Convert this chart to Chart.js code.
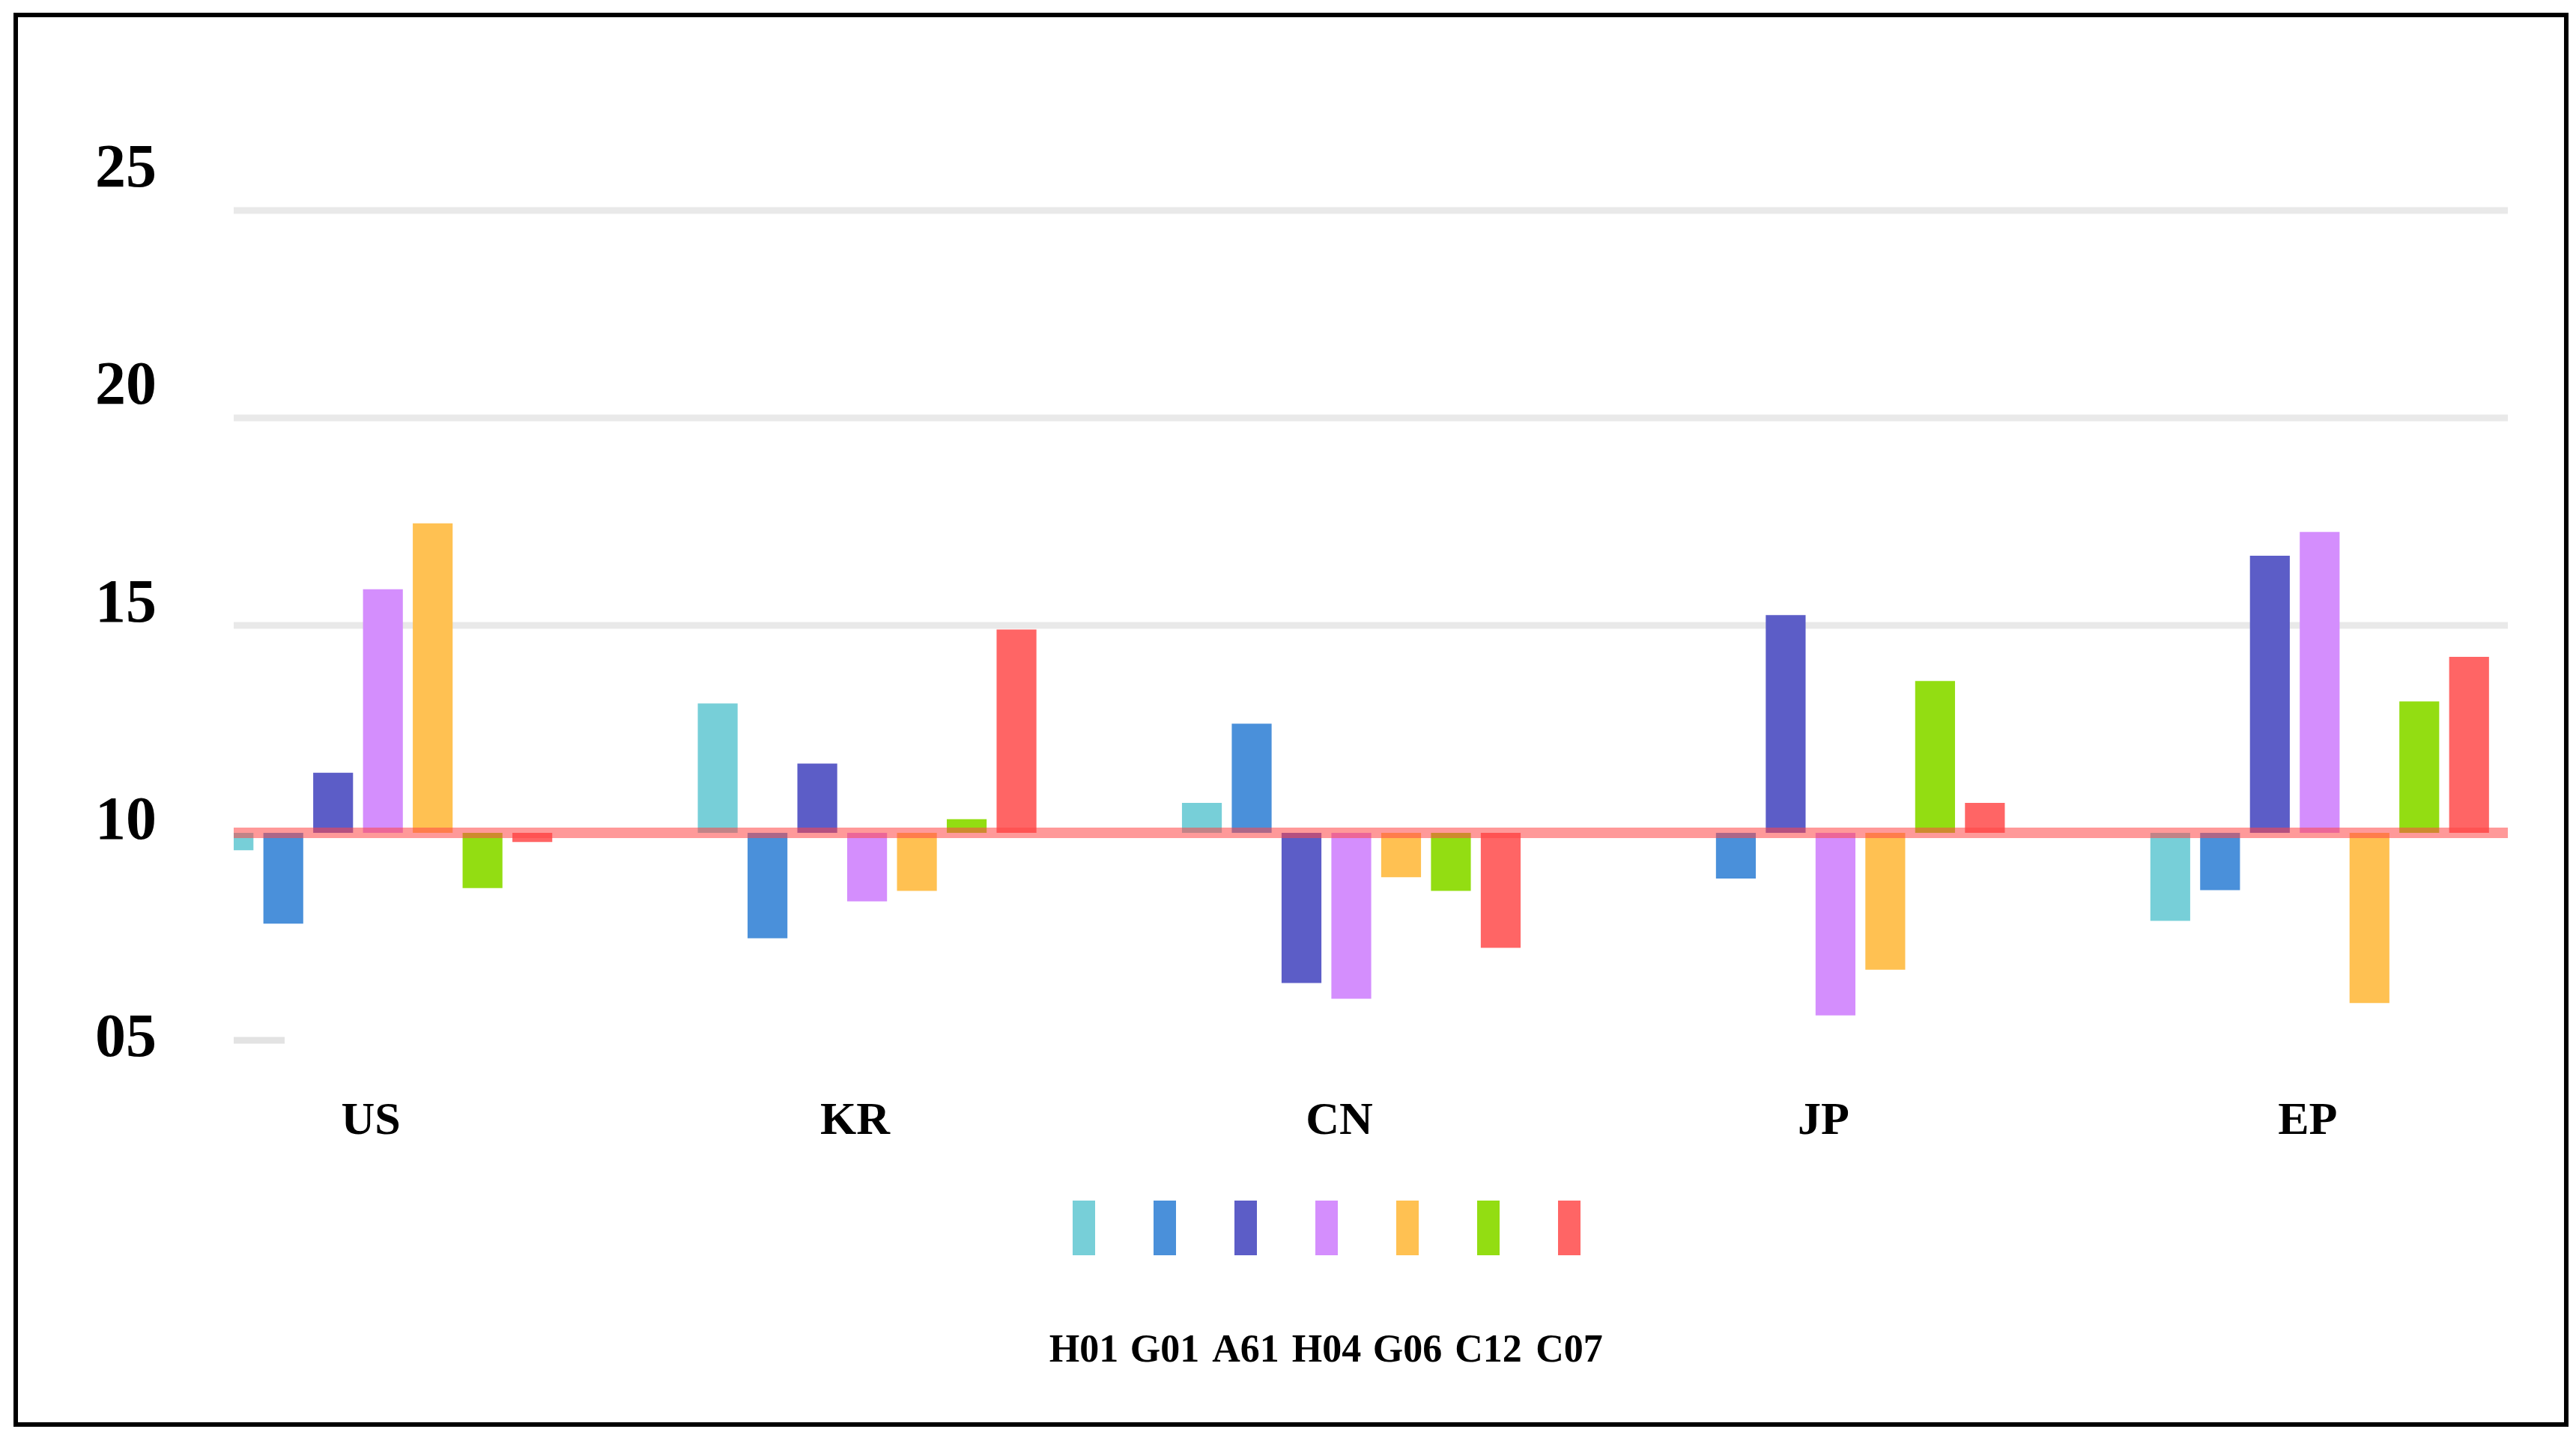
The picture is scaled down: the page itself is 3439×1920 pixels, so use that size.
<!DOCTYPE html>
<html>
<head>
<meta charset="utf-8">
<script src="https://cdn.jsdelivr.net/npm/chart.js@4.4.1/dist/chart.umd.min.js"></script>
<style>
  html, body { margin: 0; padding: 0; background: #fff; }
  #c { display: block; }
</style>
</head>
<body>
<canvas id="c" width="3439" height="1920" style="width:3439px;height:1920px"></canvas>
<script>
// Datos (base = 10)
const paises = ['US', 'KR', 'CN', 'JP', 'EP'];
const codigos = ['H01', 'G01', 'A61', 'H04', 'G06', 'C12', 'C07'];
const colores = ['#77cfd8', '#4a90da', '#5c5dc7', '#d48efd', '#ffc152', '#93dd12', '#ff6565'];

const h01 = [9.58, 13.12, 10.72, 10.0, 7.88];
const g01 = [7.81, 7.46, 12.63, 8.9, 8.62];
const a61 = [11.45, 11.67, 6.38, 15.25, 16.68];
const h04 = [15.87, 8.35, 6.0, 5.6, 17.25];
const g06 = [17.46, 8.6, 8.93, 6.7, 5.9];
const c12 = [8.67, 10.33, 8.6, 13.66, 13.17];
const c07 = [9.78, 14.9, 7.23, 10.72, 14.24];

const ticksY = [5, 10, 15, 20, 25];
const etiquetasY = ['05', '10', '15', '20', '25'];
const lineasGrid = [15, 20, 25];
const valorBase = 10;

const series = [h01, g01, a61, h04, g06, c12, c07];
const fuente = '"Liberation Serif", "Times New Roman", serif';

// lineas de fondo (grid) y linea roja de base
const lineasPlugin = {
    id: 'lineas',
    beforeDatasetsDraw(chart) {
        const { ctx, chartArea } = chart;
        const y = chart.scales.y;
        const x0 = chartArea.left + 124;
        const x1 = chartArea.right - 72;
        ctx.save();
        ctx.strokeStyle = '#e9e9e9';
        ctx.lineWidth = 9;
        lineasGrid.forEach(v => {
            const py = y.getPixelForValue(v);
            ctx.beginPath();
            ctx.moveTo(x0, py);
            ctx.lineTo(x1, py);
            ctx.stroke();
        });
        // pequeño trazo en 05
        const p5 = y.getPixelForValue(ticksY[0]);
        ctx.strokeStyle = '#e3e3e3';
        ctx.beginPath();
        ctx.moveTo(x0, p5);
        ctx.lineTo(x0 + 68, p5);
        ctx.stroke();
        ctx.restore();
    },
    afterDatasetsDraw(chart) {
        const { ctx, chartArea } = chart;
        const py = chart.scales.y.getPixelForValue(valorBase);
        ctx.save();
        ctx.strokeStyle = 'rgba(255, 70, 70, 0.55)';
        ctx.lineWidth = 14;
        ctx.beginPath();
        ctx.moveTo(chartArea.left + 124, py);
        ctx.lineTo(chartArea.right - 72, py);
        ctx.stroke();
        ctx.restore();
    },
    afterDraw(chart) {
        const { ctx } = chart;
        ctx.save();
        // leyenda: cuadros arriba, codigos abajo
        ctx.font = 'bold 52px ' + fuente;
        ctx.textAlign = 'center';
        ctx.textBaseline = 'alphabetic';
        chart.data.datasets.forEach((ds, i) => {
            const cx = 1447 + i * 108;
            ctx.fillStyle = ds.backgroundColor;
            ctx.fillRect(cx - 15, 1603, 30, 73);
            ctx.fillStyle = '#000';
            ctx.fillText(ds.label, cx, 1818);
        });
        // marco negro
        ctx.strokeStyle = '#000';
        ctx.lineWidth = 6;
        ctx.strokeRect(21, 20, 3405, 1882);
        ctx.restore();
    }
};

const ctx = document.getElementById('c').getContext('2d');
const grafico = new Chart(ctx, {
    type: 'bar',
    data: {
        labels: paises,
        datasets: series.map((datos, i) => ({
            label: codigos[i],
            data: datos,
            base: valorBase,
            backgroundColor: colores[i],
            borderWidth: 0,
            yAxisID: 'y',
            clip: { left: -124, top: false, right: false, bottom: false }
        }))
    },
    options: {
        responsive: false,
        devicePixelRatio: 1,
        animation: false,
        categoryPercentage: 0.72,
        barPercentage: 0.8,
        layout: { padding: { top: 150, left: 188, right: 19, bottom: 371 } },
        plugins: {
            legend: { display: false },
            tooltip: { enabled: false }
        },
        scales: {
            x: {
                grid: { display: false, drawTicks: false },
                border: { display: false },
                ticks: {
                    color: '#000',
                    padding: 72,
                    labelOffset: -16,
                    font: { family: fuente, size: 62, weight: 'bold' }
                },
                afterFit(s) { s.height = 160; }
            },
            y: {
                display: false,
                min: 5,
                max: 27.365
            },
            yl: {
                position: 'left',
                min: 5,
                max: 26.344,
                grid: { display: false, drawTicks: false },
                border: { display: false },
                afterBuildTicks(s) { s.ticks = ticksY.map(v => ({ value: v })); },
                ticks: {
                    color: '#000',
                    mirror: true,
                    crossAlign: 'near',
                    padding: -61,
                    font: { family: fuente, size: 82, weight: 'bold' },
                    callback: (v, i) => etiquetasY[i]
                },
                afterFit(s) { s.width = 0; }
            }
        }
    },
    plugins: [lineasPlugin]
});
</script>
</body>
</html>
